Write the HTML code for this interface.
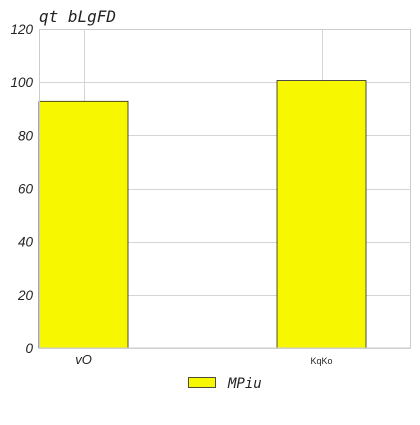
<!DOCTYPE html>
<html><head><meta charset="utf-8"><style>
body{margin:0;background:#fff;width:420px;height:420px;overflow:hidden}
</style></head><body>
<svg width="420" height="420" xmlns="http://www.w3.org/2000/svg">
<g id="grid"></g>
<g id="bars"></g>
<g id="ticks"></g>
<rect x="39.5" y="29.5" width="371" height="318.5" fill="none" stroke="#cccccc"/>
<text x="39" y="22" font-family="DejaVu Sans Mono, monospace" font-style="italic" font-size="16" fill="#222">qt bLgFD</text>
<rect x="188.5" y="377.5" width="27" height="10" fill="#f7f700" stroke="#222" stroke-width="0.8"/>
<text x="228" y="388" font-family="DejaVu Sans Mono, monospace" font-style="italic" font-size="14" fill="#222">MPiu</text>
</svg>
<script>
const categories = ["vO", "KqKo"];
const values = [92.8, 100.6];
const yTicks = [0, 20, 40, 60, 80, 100, 120];
const NS = "http://www.w3.org/2000/svg";
const y0 = 348, y1 = 29, yMax = 120;
function yScale(v){ return y0 - (v / yMax) * (y0 - y1); }
function xScale(i){ return 83.5 + i * 238; }
const barW = 89;
const grid = document.getElementById('grid'), bars = document.getElementById('bars'), ticks = document.getElementById('ticks');
function mk(t, a){ const e = document.createElementNS(NS, t); for (const k in a) e.setAttribute(k, a[k]); return e; }
yTicks.forEach(t => {
  const y = Math.round(yScale(t)) + 0.5;
  const l = mk('line', {x1: 39, x2: 411, y1: y, y2: y, stroke: '#d5d5d5'});
  
  
  grid.appendChild(l);
  const tx = mk('text', {x: 33, y: yScale(t) + 5, 'text-anchor': 'end', 'font-family': 'Liberation Sans, sans-serif', 'font-style': 'italic', 'font-size': 13.5, fill: '#222'});
  tx.textContent = t;
  
  
  ticks.appendChild(tx);
});
categories.forEach((c, i) => {
  const x = Math.round(xScale(i)) + 0.5;
  const l = mk('line', {x1: x, x2: x, y1: 29, y2: 348, stroke: '#d5d5d5'});
  
  
  grid.appendChild(l);
  const top = yScale(values[i]);
  const r = mk('rect', {x: xScale(i) - barW / 2, y: top, width: barW, height: y0 - top, fill: '#f7f700', stroke: '#222', 'stroke-width': 0.8});
  
  
  bars.appendChild(r);
  const tx = mk('text', {x: xScale(i), y: 364, 'text-anchor': 'middle', 'font-family': 'Liberation Sans, sans-serif', 'font-style': i === 0 ? 'italic' : 'normal', 'font-size': i === 0 ? 13 : 9, fill: '#222'});
  tx.textContent = c;
  
  
  ticks.appendChild(tx);
});
</script>
</body></html>
